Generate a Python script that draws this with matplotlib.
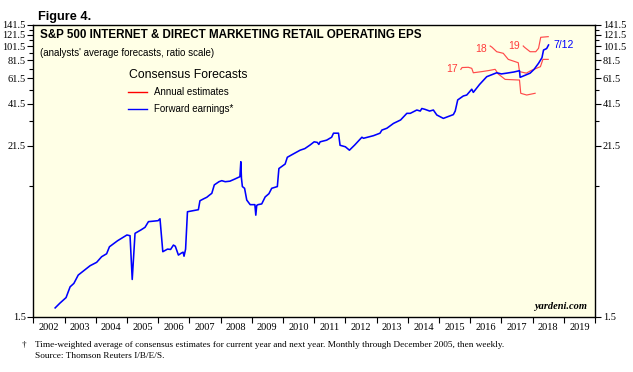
import numpy as np
import matplotlib
matplotlib.use("Agg")
import matplotlib.pyplot as plt
from matplotlib.ticker import FixedLocator, NullFormatter, FixedFormatter

# Forward earnings (blue), year fraction vs EPS
fwd_x = [2002.70, 2002.85, 2003.05, 2003.18, 2003.30, 2003.44, 2003.82, 2004.03, 2004.19,
         2004.35, 2004.44, 2004.70, 2005.00, 2005.10, 2005.17, 2005.26, 2005.45, 2005.58,
         2005.69, 2005.85, 2006.00, 2006.06, 2006.15, 2006.30, 2006.40, 2006.49, 2006.55,
         2006.60, 2006.65, 2006.75, 2006.80, 2006.83, 2006.88, 2006.94, 2007.15, 2007.29,
         2007.34, 2007.45, 2007.56, 2007.65, 2007.72, 2007.80, 2007.95, 2008.04, 2008.15,
         2008.30, 2008.45, 2008.62, 2008.65, 2008.67, 2008.70, 2008.77, 2008.84, 2008.95,
         2009.10, 2009.13, 2009.16, 2009.20, 2009.32, 2009.43, 2009.55, 2009.64, 2009.82,
         2009.87, 2010.07, 2010.14, 2010.30, 2010.55, 2010.70, 2010.87, 2011.00, 2011.10,
         2011.15, 2011.19, 2011.40, 2011.56, 2011.62, 2011.78, 2011.83, 2012.00, 2012.13,
         2012.30, 2012.53, 2012.58, 2012.90, 2013.11, 2013.17, 2013.33, 2013.54, 2013.77,
         2013.97, 2014.08, 2014.29, 2014.40, 2014.45, 2014.55, 2014.70, 2014.82, 2014.93,
         2015.14, 2015.30, 2015.46, 2015.52, 2015.60, 2015.78, 2015.89, 2016.05, 2016.10,
         2016.30, 2016.53, 2016.85, 2017.00, 2017.17, 2017.40, 2017.58, 2017.60, 2017.75,
         2017.92, 2018.05, 2018.19, 2018.30, 2018.35, 2018.45, 2018.51]
fwd_y = [1.72, 1.85, 2.02, 2.39, 2.52, 2.87, 3.32, 3.50, 3.82,
         4.00, 4.46, 4.90, 5.36, 5.30, 2.68, 5.50, 5.80, 6.04,
         6.60, 6.65, 6.70, 6.90, 4.13, 4.30, 4.28, 4.58, 4.50,
         4.20, 3.92, 4.05, 4.10, 3.85, 4.30, 7.70, 7.85, 7.95,
         9.14, 9.40, 9.65, 10.0, 10.26, 11.7, 12.3, 12.5, 12.3,
         12.4, 12.8, 13.3, 16.8, 13.0, 11.4, 11.1, 9.24, 8.6,
         8.6, 7.3, 8.5, 8.6, 8.7, 9.7, 10.2, 11.1, 11.4,
         15.1, 16.2, 18.0, 18.8, 20.1, 20.6, 21.8, 22.9, 22.7,
         22.0, 22.9, 23.5, 24.6, 26.2, 26.2, 21.7, 21.2, 20.1,
         21.8, 24.6, 24.2, 25.2, 26.2, 27.5, 28.3, 30.5, 32.2,
         35.7, 35.7, 37.6, 37.0, 38.5, 38.0, 37.0, 37.6, 34.8,
         33.0, 34.0, 35.0, 37.0, 44.0, 46.8, 47.5, 52.0, 49.5,
         56.0, 63.2, 67.2, 66.0, 66.8, 68.0, 69.4, 62.6, 64.5,
         66.8, 71.0, 77.9, 85.0, 95.8, 98.0, 103.6]

# Annual estimates (red)
est17_x = [2015.70, 2015.74, 2015.94, 2016.05, 2016.10, 2016.37, 2016.60, 2016.80, 2016.90,
           2017.12, 2017.58, 2017.62, 2017.81, 2018.08]
est17_y = [70.9, 72.9, 73.2, 72.0, 67.2, 68.4, 69.6, 70.9, 65.9, 60.6, 60.0, 48.8, 47.5, 48.8]
est18_x = [2016.64, 2016.70, 2016.85, 2017.06, 2017.22, 2017.54, 2017.58, 2017.80, 2017.95,
           2018.25, 2018.33, 2018.50]
est18_y = [102, 100, 93.3, 91, 82.8, 78.6, 68.4, 66.8, 69.6, 73.9, 82.8, 82.8]
est19_x = [2017.70, 2017.74, 2017.92, 2018.10, 2018.19, 2018.26, 2018.50]
est19_y = [102, 100, 93.3, 93.3, 98.4, 116.8, 118]

years = list(range(2002, 2020))
major_y = [1.5, 21.5, 41.5, 61.5, 81.5, 101.5, 121.5, 141.5]
minor_y = [11.5, 31.5, 51.5, 71.5, 91.5, 111.5, 131.5]

serif = "Liberation Serif"
sans = "Liberation Sans"

fig = plt.figure(figsize=(6.33, 3.72), dpi=100)
ax = fig.add_axes([0.0526, 0.1487, 0.8874, 0.7841])
ax.set_facecolor("#ffffe6")

ax.plot(fwd_x, fwd_y, color="#0000ff", lw=1.15, zorder=3)
for xs, ys in [(est17_x, est17_y), (est18_x, est18_y), (est19_x, est19_y)]:
    ax.plot(xs, ys, color="#ff4a4a", lw=0.85, zorder=2)

ax.set_yscale("log")
ax.set_ylim(1.5, 141.5)
ax.set_xlim(2002, 2020)

ax.yaxis.set_major_locator(FixedLocator(major_y))
ax.yaxis.set_major_formatter(FixedFormatter([f"{v:.1f}" for v in major_y]))
ax.yaxis.set_minor_locator(FixedLocator(minor_y))
ax.yaxis.set_minor_formatter(NullFormatter())
ax.tick_params(axis="y", which="both", direction="out", left=True, right=True,
               labelleft=True, labelright=True, labelsize=7.5, pad=1)
ax.tick_params(axis="y", which="major", length=4.5, width=0.8)
ax.tick_params(axis="y", which="minor", length=3, width=0.8)
for lab in ax.get_yticklabels():
    lab.set_fontfamily(serif)

# year separators as major ticks, labels centred in between
ax.xaxis.set_major_locator(FixedLocator(years + [2020]))
ax.xaxis.set_major_formatter(NullFormatter())
ax.xaxis.set_minor_locator(FixedLocator([y + 0.5 for y in years]))
ax.xaxis.set_minor_formatter(FixedFormatter([str(y) for y in years]))
ax.tick_params(axis="x", which="major", direction="out", length=4, width=0.8)
ax.tick_params(axis="x", which="minor", length=0, labelsize=7.5, pad=4.5)
for lab in ax.get_xticklabels(minor=True):
    lab.set_fontfamily(serif)

for s in ax.spines.values():
    s.set_linewidth(1.0)

# titles
fig.text(0.060, 0.955, "Figure 4.", fontsize=9.2, fontweight="bold", family=sans, va="center")
ax.text(0.012, 0.965, "S&P 500 INTERNET & DIRECT MARKETING RETAIL OPERATING EPS",
        transform=ax.transAxes, fontsize=8.4, fontweight="bold", family=sans, va="center")
ax.text(0.012, 0.905, "(analysts' average forecasts, ratio scale)",
        transform=ax.transAxes, fontsize=7, family=sans, va="center")

# legend
ax.text(0.170, 0.830, "Consensus Forecasts", transform=ax.transAxes, fontsize=8.8,
        family=sans, va="center")
ax.plot([0.168, 0.203], [0.771, 0.771], transform=ax.transAxes, color="#ff0000", lw=1)
ax.plot([0.168, 0.203], [0.713, 0.713], transform=ax.transAxes, color="#0000ff", lw=1)
ax.text(0.214, 0.771, "Annual estimates", transform=ax.transAxes, fontsize=7,
        family=sans, va="center")
ax.text(0.214, 0.713, "Forward earnings*", transform=ax.transAxes, fontsize=7,
        family=sans, va="center")

# line labels
ax.text(est17_x[0] - 0.1, est17_y[0], "17", color="#ff3b3b", fontsize=7.5, family=sans,
        ha="right", va="center")
ax.text(est18_x[0] - 0.1, est18_y[0] - 4, "18", color="#ff3b3b", fontsize=7.5, family=sans,
        ha="right", va="center")
ax.text(est19_x[0] - 0.1, est19_y[0], "19", color="#ff3b3b", fontsize=7.5, family=sans,
        ha="right", va="center")
ax.text(fwd_x[-1] + 0.15, fwd_y[-1], "7/12", color="#0000ff", fontsize=7.5, family=sans,
        ha="left", va="center")

ax.text(0.985, 0.035, "yardeni.com", transform=ax.transAxes, fontsize=7.5, family=serif,
        fontstyle="italic", fontweight="bold", ha="right", va="center")

# footnote
fig.text(0.035, 0.073, "\u2020", fontsize=6.7, family=serif, va="center")
fig.text(0.055, 0.073, "Time-weighted average of consensus estimates for current year and next year. "
         "Monthly through December 2005, then weekly.", fontsize=6.7, family=serif, va="center")
fig.text(0.055, 0.043, "Source: Thomson Reuters I/B/E/S.", fontsize=6.7, family=serif, va="center")

fig.savefig("out.png", dpi=100)
